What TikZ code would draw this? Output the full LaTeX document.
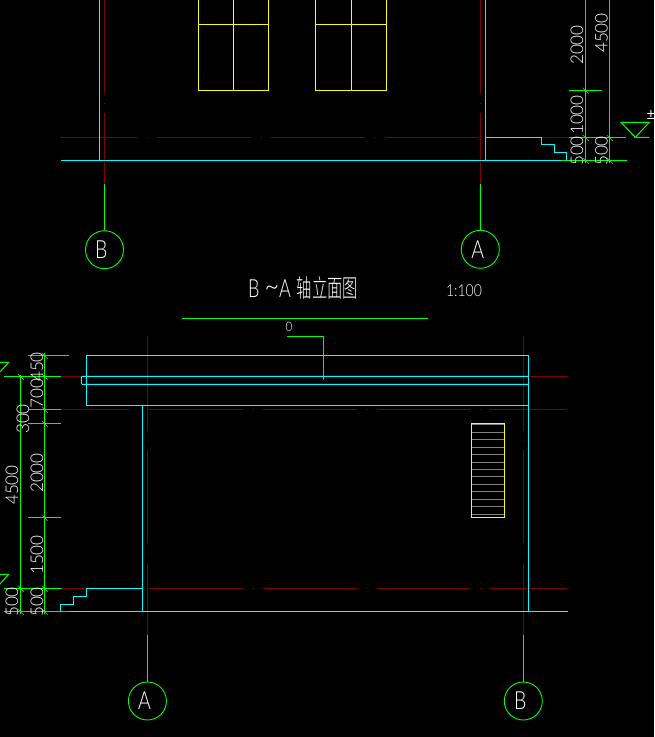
\documentclass[tikz,border=0pt]{standalone}
\usepackage{fontspec}
\setmainfont{Liberation Sans}
\newfontfamily\cad{Lato Light}
\newfontfamily\cjk{Noto Sans CJK SC Light}
\definecolor{cadred}{RGB}{128,0,0}
\definecolor{cadcyan}{RGB}{0,255,255}
\definecolor{cadgreen}{RGB}{0,255,0}
\definecolor{cadyellow}{RGB}{255,255,0}
\definecolor{cadgray}{RGB}{128,128,128}
\tikzset{
  wall/.style={draw=cadcyan,line width=1pt},
  axisline/.style={draw=cadred,line width=1pt},
  dimline/.style={draw=cadgreen,line width=1pt},
  winline/.style={draw=cadyellow,line width=1pt},
  tread/.style={draw=cadgray,line width=1pt},
  bubble/.style={circle,draw=cadgreen,line width=0.9pt,minimum size=38pt,inner sep=0pt},
  letter/.style={text=white,inner sep=0pt,font=\cad\fontsize{25}{25}\selectfont,xscale=0.78},
  dimtext/.style={text=white,inner sep=0pt,rotate=90,font=\cad\fontsize{17.5}{17.5}\selectfont,xscale=0.98}
}
\newcommand{\tickmark}[2]{\draw[dimline,line width=0.6pt] (#1-2.5,#2-2.5) -- (#1+3.5,#2+3.5);}
\begin{document}
\begin{tikzpicture}[x=1pt,y=-1pt]
\useasboundingbox[fill=black] (0,0) rectangle (654,737);
\clip (0,0) rectangle (654,737);
% ---- upper elevation: axis lines
\draw[axisline] (104.5,0) -- (104.5,93) (104.5,102.5) -- (104.5,103.5) (104.5,113) -- (104.5,184);
\draw[axisline] (480.5,0) -- (480.5,93) (480.5,102.5) -- (480.5,103.5) (480.5,113) -- (480.5,184);
\draw[axisline] (60,137.5) -- (138,137.5) (147,137.5) -- (148,137.5) (157,137.5) -- (251,137.5)
  (261,137.5) -- (262,137.5) (271,137.5) -- (365,137.5) (374,137.5) -- (375,137.5) (385,137.5) -- (479,137.5);
\draw[axisline] (541.7,137.5) -- (569,137.5);
% walls
\draw[wall] (99.5,0) -- (99.5,160.3);
\draw[wall] (485.5,0) -- (485.5,160.3);
\draw[wall] (61,160.3) -- (561,160.3);
\draw[wall] (485.5,137.5) -- (541.7,137.5) -- (541.7,144.5) -- (554,144.5) -- (554,152) -- (566.7,152) -- (566.7,160.3);
% windows
\draw[winline] (198.7,0) -- (198.7,90.3) -- (268.3,90.3) -- (268.3,0) (233.7,0) -- (233.7,90.3) (198.7,24.3) -- (268.3,24.3);
\draw[winline] (315.7,0) -- (315.7,90.3) -- (386,90.3) -- (386,0) (351.7,0) -- (351.7,90.3) (315.7,24.3) -- (386,24.3);
% dimensions right
\draw[dimline] (585.3,0) -- (585.3,163) (609.3,0) -- (609.3,163);
\draw[dimline] (569,90.3) -- (602,90.3) (569,137.5) -- (626,137.5) (561,160.3) -- (627,160.3);
\tickmark{585.3}{90.3}\tickmark{585.3}{137.5}\tickmark{609.3}{137.5}\tickmark{585.3}{160.3}\tickmark{609.3}{160.3}
\draw[dimline] (635.3,137.3) -- (621,122.3) -- (649.3,122.3) -- (635.3,137.3) -- (649.3,137.3);
\node[text=white,inner sep=0pt,font=\fontsize{15}{15}\selectfont] (plusminus) at (651,115) {±};
\node[dimtext] (t2000a) at (577,45) {2000};
\node[dimtext] (t4500a) at (601.5,33) {4500};
\node[dimtext] (t1000a) at (577,115) {1000};
\node[dimtext] (t500a) at (577,151) {500};
\node[dimtext] (t500b) at (601.5,151) {500};
% bubbles top
\node[bubble] (bubBtop) at (104.5,249.7) {};
\node[bubble] (bubAtop) at (480.3,249.3) {};
\coordinate (axBtop) at (104.5,184);
\coordinate (axAtop) at (480.5,184);
\draw[dimline] (axBtop) -- (bubBtop);
\draw[dimline] (axAtop) -- (bubAtop);
\node[letter] (lBtop) at (101.2,249.6) {B};
\node[letter] (lAtop) at (477.7,249.6) {A};
% title
\node[text=white,inner sep=0pt,anchor=west,font=\cad\fontsize{25}{25}\selectfont,xscale=0.72] (title) at (248,288)
  {B\hspace{7pt}\raisebox{1pt}{\scalebox{1.4}[1.2]{\textasciitilde}}\hspace{0pt}A\hspace{8pt}{\cjk\scalebox{0.85}[1]{轴立面图}}};
\node[text=white,inner sep=0pt,font=\cad\fontsize{16.5}{16.5}\selectfont,xscale=0.85] (scale) at (464,291) {1:100};
\draw[dimline] (182,318.5) -- (427.7,318.5);
\node[text=white,inner sep=0pt,font=\cad\fontsize{13}{13}\selectfont,xscale=0.9] (zero) at (289,326.5) {0};
\coordinate (leadS) at (287.3,336.3);
\coordinate (leadE) at (323.5,379.7);
\draw[dimline] (leadS) -| (leadE);
% ---- lower elevation: axis lines
\foreach \xx in {147.4,523.3}{
  \draw[axisline] (\xx,336) -- (\xx,430.7) (\xx,439.5) -- (\xx,440.5) (\xx,450) -- (\xx,543) (\xx,553.5) -- (\xx,554.5) (\xx,564) -- (\xx,635);
}
\draw[axisline] (61,376.3) -- (81.3,376.3) (529,376.3) -- (568,376.3);
\draw[axisline] (61,409.3) -- (129,409.3) (139,409.3) -- (140,409.3) (149,409.3) -- (243,409.3)
  (253,409.3) -- (254,409.3) (263,409.3) -- (357,409.3) (366.5,409.3) -- (367.5,409.3) (377,409.3) -- (470,409.3)
  (480,409.3) -- (481,409.3) (490,409.3) -- (567,409.3);
\draw[axisline] (62,588.3) -- (86.3,588.3) (149,588.3) -- (243,588.3)
  (253,588.3) -- (254,588.3) (263,588.3) -- (357,588.3) (366.5,588.3) -- (367.5,588.3) (377,588.3) -- (470,588.3)
  (480,588.3) -- (481,588.3) (490,588.3) -- (567,588.3);
% walls
\draw[wall] (86.3,355.3) rectangle (528.3,405.3);
\draw[wall] (528.3,376.3) -- (82.3,376.3) -- (81.3,377.3) -- (81.3,383.3) -- (82.3,384.3) -- (528.3,384.3);
\draw[wall] (142.3,405.3) -- (142.3,611.3);
\draw[wall] (528.3,355.3) -- (528.3,611.3);
\draw[wall] (69,611.3) -- (568,611.3);
\draw[wall] (142.3,588.3) -- (86.3,588.3) -- (86.3,596.3) -- (73.3,596.3) -- (73.3,604.3) -- (60.3,604.3) -- (60.3,611.3);
% stair-like window
\foreach \yy in {424.3,432.3,439.3,447.3,454.3,462.3,469.3,476.3,484.3,491.3,499.3,506.3,514.3}{
  \draw[tread] (471.3,\yy) -- (504.3,\yy);
}
\draw[winline] (471.3,423.3) rectangle (504.3,517.3);
% dimensions left
\draw[dimline] (44.3,353) -- (44.3,613.5) (20.3,375) -- (20.3,613.5);
\draw[dimline] (28,355.3) -- (69,355.3) (4,376.3) -- (61,376.3) (29,409.3) -- (61,409.3) (28,423.3) -- (61,423.3)
  (28,517.3) -- (61,517.3) (4,588.3) -- (62,588.3) (4,611.3) -- (69,611.3);
\tickmark{44.3}{355.3}\tickmark{44.3}{376.3}\tickmark{20.3}{376.3}\tickmark{44.3}{409.3}\tickmark{44.3}{423.3}
\tickmark{44.3}{517.3}\tickmark{44.3}{588.3}\tickmark{20.3}{588.3}\tickmark{44.3}{611.3}\tickmark{20.3}{611.3}
\draw[dimline] (0,362.3) -- (8.7,362.3) -- (-1,373);
\draw[dimline] (0,574.3) -- (8.7,574.3) -- (-1,585);
\node[dimtext] (t450) at (37,367) {450};
\node[dimtext] (t700) at (37,393.5) {700};
\node[dimtext] (t300) at (23,419) {300};
\node[dimtext] (t2000b) at (37,473) {2000};
\node[dimtext] (t4500b) at (12,485) {4500};
\node[dimtext] (t1500) at (37,555) {1500};
\node[dimtext] (t500c) at (12,602) {500};
\node[dimtext] (t500d) at (37,602) {500};
% bubbles bottom
\node[bubble] (bubAbot) at (147.4,701) {};
\node[bubble] (bubBbot) at (523.3,701) {};
\coordinate (axAbot) at (147.4,635);
\coordinate (axBbot) at (523.3,635);
\draw[dimline] (axAbot) -- (bubAbot);
\draw[dimline] (axBbot) -- (bubBbot);
\node[letter] (lAbot) at (144.5,701) {A};
\node[letter] (lBbot) at (520.3,701) {B};
\end{tikzpicture}
\end{document}
